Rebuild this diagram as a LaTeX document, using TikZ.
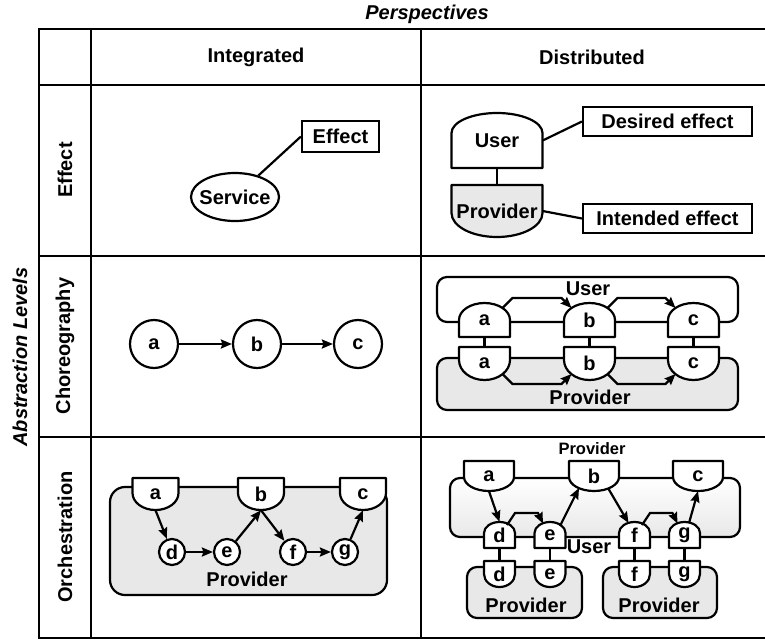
\documentclass[tikz,border=0pt]{standalone}
\usepackage{fontspec}
\setmainfont{Liberation Sans}
\usepackage{tikz}
\usetikzlibrary{arrows.meta, shapes.geometric}
\tikzset{every picture/.style={/utils/exec={\bfseries\fontsize{20}{24}\selectfont}}}
\tikzset{
  tbl/.style={line width=2.6pt},
  part/.style={line width=2.2pt, line join=round},
  partnode/.style={inner sep=0pt},
  txtbox/.style={draw, line width=2.2pt, inner sep=0pt},
  circ/.style={circle, draw, line width=2.2pt, fill=white, inner sep=0pt},
  hold/.style={draw, line width=2.2pt, rounded corners=10pt, inner sep=0pt},
  flow/.style={-{Stealth[length=11pt, width=9pt, inset=1.5pt]}, line width=2.2pt},
  link/.style={line width=2.2pt},
}
% dome: flat bottom, round top (fill, name, x, y, width, height, arc, text)
\newcommand{\dompart}[8][white]{%
  \draw[part, fill=#1] ({#3-#5/2},{#4+#6/2}) -- ({#3-#5/2},{#4-#6/2+#7})
    arc[start angle=180, end angle=360, x radius=#5/2, y radius=#7]
    -- ({#3+#5/2},{#4+#6/2}) -- cycle;
  \node[partnode, minimum width=#5, minimum height=#6] (#2) at (#3,#4) {#8};
}
% cup: flat top, round bottom
\newcommand{\cuppart}[8][white]{%
  \draw[part, fill=#1] ({#3-#5/2},{#4-#6/2}) -- ({#3-#5/2},{#4+#6/2-#7})
    arc[start angle=180, end angle=0, x radius=#5/2, y radius=#7]
    -- ({#3+#5/2},{#4-#6/2}) -- cycle;
  \node[partnode, minimum width=#5, minimum height=#6] (#2) at (#3,#4) {#8};
}

\begin{document}
\begin{tikzpicture}[x=1pt, y=-1pt]
        \useasboundingbox (0,0) rectangle (765,640);

        % Table
        \draw[tbl] (39,29) rectangle (775,638);
        \foreach \yy in {85,256,437} \draw[tbl] (39,\yy) -- (775,\yy);
        \foreach \xx in {91,421} \draw[tbl] (\xx,29) -- (\xx,638);

        % Headers
        \node[font=\itshape] (persp) at (427,14) {Perspectives};
        \node (integ) at (256,57) {Integrated};
        \node (distr) at (592,57) {Distributed};
        \node[rotate=90, font=\itshape] (levels) at (20,357) {Abstraction Levels};
        \node[rotate=90] (leffect) at (65,170) {Effect};
        \node[rotate=90] (lchoreo) at (65,346) {Choreography};
        \node[rotate=90] (lorch) at (65,537) {Orchestration};

        % Effect, integrated
        \node[ellipse, draw, line width=2.2pt, inner xsep=-10pt, inner ysep=-4pt, minimum width=88, minimum height=48] (service) at (235,197) {Service};
        \node[txtbox, minimum width=77, minimum height=31] (effect) at (340.5,136.5) {Effect};
        \draw[link] (service) -- (effect.west);

        % Effect, distributed
        \dompart{user}{497}{140.5}{91}{55}{20}{User}
        \cuppart[gray!18]{prov}{497}{211}{91}{52}{24}{Provider}
        \node[txtbox, minimum width=169, minimum height=29] (desired) at (667.5,121.5) {Desired effect};
        \node[txtbox, minimum width=169, minimum height=29] (intended) at (667.5,218.5) {Intended effect};
        \draw[link] (user.south) -- (prov.north);
        \draw[link] (user.east) -- (desired.west);
        \draw[link] (prov.east) -- (intended.west);

        % Choreography, integrated
        \node[circ, minimum size=48] (ca) at (154,344) {a};
        \node[circ, minimum size=48] (cb) at (257,344) {b};
        \node[circ, minimum size=48] (cc) at (358,344) {c};
        \draw[flow] (ca) -- (cb);
        \draw[flow] (cb) -- (cc);

        % Choreography, distributed
        \node[hold, minimum width=301, minimum height=45] (userbox) at (587.5,299.5) {};
        \node (userlbl) at (588,289) {User};
        \node[hold, fill=gray!18, minimum width=301, minimum height=52] (provbox) at (587.5,384) {};
        \node (provlbl) at (590,397) {Provider};
        \dompart{ua}{484.5}{320}{51}{34}{17}{a}
        \dompart{ub}{589.5}{320}{51}{34}{17}{b}
        \dompart{uc}{693.5}{320}{51}{34}{17}{c}
        \cuppart{pa}{484.5}{363.5}{51}{33}{20}{a}
        \cuppart{pb}{589.5}{363.5}{51}{33}{20}{b}
        \cuppart{pc}{693.5}{363.5}{51}{33}{20}{c}
        \foreach \n in {a,b,c} \draw[link] (u\n.south) -- (p\n.north);
        \draw[flow] ([shift={(18,-12)}]ua.center) -- ++(10,-10) -- ([shift={(-28,-22)}]ub.center) -- ([shift={(-18,-12)}]ub.center);
        \draw[flow] ([shift={(18,-12)}]ub.center) -- ++(10,-10) -- ([shift={(-28,-22)}]uc.center) -- ([shift={(-18,-12)}]uc.center);
        \draw[flow] ([shift={(18,10.5)}]pa.center) -- ++(10,10) -- ([shift={(-28,20.5)}]pb.center) -- ([shift={(-18,10.5)}]pb.center);
        \draw[flow] ([shift={(18,10.5)}]pb.center) -- ++(10,10) -- ([shift={(-28,20.5)}]pc.center) -- ([shift={(-18,10.5)}]pc.center);

        % Orchestration, integrated
        \node[hold, fill=gray!18, rounded corners=15pt, minimum width=277, minimum height=108] (orchbox) at (248.5,541) {};
        \cuppart{oa}{155.5}{494}{46}{32}{17}{a}
        \cuppart{ob}{261}{494}{46}{32}{17}{b}
        \cuppart{oc}{363}{494}{46}{32}{17}{c}
        \node[circ, minimum size=26] (od) at (172,552) {d};
        \node[circ, minimum size=26] (oe) at (227,552) {e};
        \node[circ, minimum size=26] (of) at (293,552) {f};
        \node[circ, minimum size=26] (og) at (345,552) {g};
        \node (orchlbl) at (247,579) {Provider};
        \draw[flow] (oa.south) -- (od);
        \draw[flow] (od) -- (oe);
        \draw[flow] (oe) -- (ob.south);
        \draw[flow] (ob.south) -- (of);
        \draw[flow] (of) -- (og);
        \draw[flow] (og) -- (oc.south);

        % Orchestration, distributed
        \node[font=\fontsize{16.5}{20}\selectfont] (toplbl) at (592,449) {Provider};
        \node[hold, top color=white, bottom color=gray!18, minimum width=290, minimum height=59] (mainbox) at (595,507.5) {};
        \node[hold, fill=gray!18, minimum width=115, minimum height=51] (leftbox) at (524.5,592.5) {};
        \node[hold, fill=gray!18, minimum width=114, minimum height=51] (rightbox) at (660,592.5) {};
        \cuppart{ta}{489}{476}{50}{30}{14}{a}
        \cuppart{tb}{594}{476}{50}{30}{14}{b}
        \cuppart{tc}{698}{476}{50}{30}{14}{c}
        \dompart{ud}{499.5}{535}{31}{26}{11}{d}
        \dompart{ue}{550}{535}{31}{26}{11}{e}
        \dompart{uf}{634.5}{535}{31}{26}{11}{f}
        \dompart{ug}{684.5}{535}{31}{26}{11}{g}
        \cuppart{ld}{499.5}{574}{31}{26}{13}{d}
        \cuppart{le}{550}{574}{31}{26}{13}{e}
        \cuppart{lf}{634.5}{574}{31}{26}{13}{f}
        \cuppart{lg}{684.5}{574}{31}{26}{13}{g}
        \node (userlbl2) at (589,547) {User};
        \node (leftlbl) at (526,605) {Provider};
        \node (rightlbl) at (659,605) {Provider};
        \foreach \n in {d,e,f,g} \draw[link] (u\n.south) -- (l\n.north);
        \draw[flow] (ta.south) -- (ud.north);
        \draw[flow] ([shift={(7.5,-10)}]ud.center) -- ++(8,-12) -- ([shift={(-12,-22)}]ue.center) -- ([shift={(-7,-11.5)}]ue.center);
        \draw[flow] ([shift={(10,-9)}]ue.center) -- ([shift={(-15,12)}]tb.center);
        \draw[flow] ([shift={(14,12)}]tb.center) -- ([shift={(-6,-12)}]uf.center);
        \draw[flow] ([shift={(7.5,-10)}]uf.center) -- ++(8,-12) -- ([shift={(-12,-22)}]ug.center) -- ([shift={(-7,-11.5)}]ug.center);
        \draw[flow] ([shift={(4.5,-12)}]ug.center) -- (tc.south);
\end{tikzpicture}
\end{document}
